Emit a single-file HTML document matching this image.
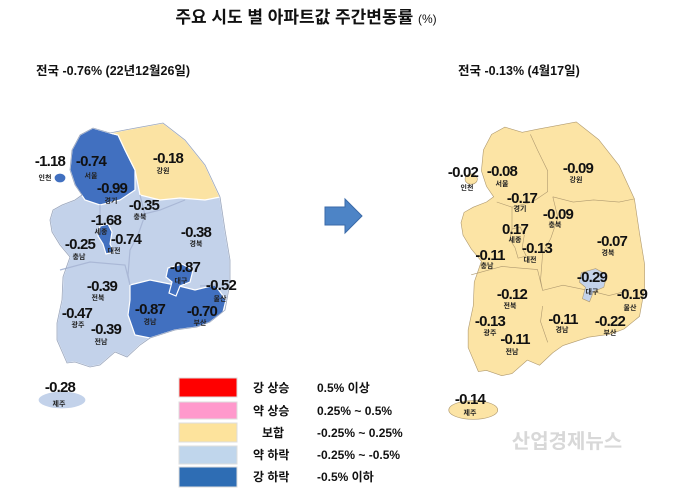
<!DOCTYPE html>
<html><head><meta charset="utf-8"><style>
html,body{margin:0;padding:0;background:#fff;}
svg{display:block;}
text{font-family:"Liberation Sans","Noto Sans CJK KR",sans-serif;}
.n{font-size:15px;font-weight:bold;fill:#111;text-anchor:middle;letter-spacing:-0.8px;}
.s{font-size:7px;font-weight:bold;fill:#222;text-anchor:middle;}
</style></head><body>
<svg width="680" height="499" viewBox="0 0 680 499" xmlns="http://www.w3.org/2000/svg">
<text x="306" y="23" text-anchor="middle" style="font-size:17px;font-weight:bold;fill:#111">주요 시도 별 아파트값 주간변동률 <tspan style="font-size:12px;font-weight:normal">(%)</tspan></text>
<text x="36" y="75" style="font-size:12.5px;font-weight:bold;fill:#111">전국 -0.76% (22년12월26일)</text>
<text x="458" y="75" style="font-size:12.5px;font-weight:bold;fill:#111">전국 -0.13% (4월17일)</text>

<defs>
<path id="outline" d="M80,135 L93,128 L110,133 L125,130 L163,123 L185,140 L205,165 L220,197 L225,230 L230,260 L230,283 L225,310 L210,322 L197,327 L175,330 L150,338 L140,345 L127,357 L115,352 L100,365 L90,367 L75,362 L67,363 L57,340 L57,323 L62,300 L63,277 L70,257 L60,245 L52,232 L50,220 L53,210 L62,205 L75,200 L82,195 L75,185 L70,170 L72,150 Z"/>
<path id="gg" d="M80,135 L93,128 L110,133 L118,135 L125,150 L135,170 L135,190 L120,200 L100,205 L85,200 L75,185 L70,170 L72,150 Z"/>
<path id="gw" d="M110,133 L125,130 L163,123 L185,140 L205,165 L220,197 L205,200 L180,198 L160,200 L140,195 L135,170 L125,150 L118,135 Z"/>
<path id="gn" d="M130,285 L150,280 L175,285 L195,290 L215,285 L226,300 L223,312 L210,322 L197,327 L175,330 L150,338 L135,335 L128,315 L130,300 Z"/>
<path id="dg" d="M168,268 L182,264 L193,270 L190,282 L180,286 L176,296 L169,293 L172,282 L166,277 Z"/>
<path id="sj" d="M100,226 L108,224 L112,232 L110,244 L114,252 L106,254 L103,244 L98,236 Z"/>
<ellipse id="jj" cx="62" cy="400" rx="24" ry="9"/>
<ellipse id="ic" cx="60" cy="178" rx="6" ry="5"/>
</defs>

<!-- Left map -->
<g stroke="#fff" stroke-width="1.2">
<use href="#outline" fill="#c3d2ea"/>
<use href="#gg" fill="#4170c0"/>
<use href="#gw" fill="#fbe3a3"/>
<use href="#gn" fill="#4170c0"/>
<use href="#dg" fill="#4170c0"/>
<use href="#sj" fill="#4170c0"/>
<use href="#jj" fill="#c3d2ea"/>
<use href="#ic" fill="#4170c0"/>
<path d="M140,195 L145,215 L138,235 L130,250 L128,275 L130,285 M60,270 L90,262 L125,265 L130,285 M140,215 L160,210 L185,200 M218,285 L200,286 M100,205 L100,226" fill="none" stroke="#aab8d6"/>
<use href="#outline" fill="none" stroke="#9aa6bd" stroke-width="0.8"/>
</g>
<g>
<text class="n" x="50" y="166">-1.18</text><text class="s" x="45" y="180">인천</text>
<text class="n" x="91" y="166">-0.74</text><text class="s" x="91" y="178">서울</text>
<text class="n" x="112" y="193">-0.99</text><text class="s" x="111" y="203">경기</text>
<text class="n" x="168" y="163">-0.18</text><text class="s" x="163" y="173">강원</text>
<text class="n" x="144" y="210">-0.35</text><text class="s" x="140" y="219">충북</text>
<text class="n" x="106" y="225">-1.68</text><text class="s" x="101" y="234">세종</text>
<text class="n" x="126" y="244">-0.74</text><text class="s" x="114" y="253">대전</text>
<text class="n" x="80" y="249">-0.25</text><text class="s" x="79" y="259">충남</text>
<text class="n" x="196" y="237">-0.38</text><text class="s" x="196" y="246">경북</text>
<text class="n" x="185" y="272">-0.87</text><text class="s" x="181" y="283">대구</text>
<text class="n" x="221" y="290">-0.52</text><text class="s" x="220" y="301">울산</text>
<text class="n" x="102" y="291">-0.39</text><text class="s" x="98" y="300">전북</text>
<text class="n" x="77" y="318">-0.47</text><text class="s" x="78" y="327">광주</text>
<text class="n" x="150" y="314">-0.87</text><text class="s" x="150" y="324">경남</text>
<text class="n" x="202" y="316">-0.70</text><text class="s" x="200" y="325">부산</text>
<text class="n" x="106" y="334">-0.39</text><text class="s" x="101" y="344">전남</text>
<text class="n" x="60" y="392">-0.28</text><text class="s" x="59" y="406">제주</text>
</g>

<!-- Arrow -->
<path d="M325,207 L345,207 L345,199 L362,216 L345,233 L345,225 L325,225 Z" fill="#4d84c6" stroke="#3a6aa8" stroke-width="1"/>

<!-- Right map -->
<g transform="translate(410,-6) scale(1.02,1.04)" stroke="#b09a70" stroke-width="0.6">
<use href="#outline" fill="#fce4a5"/>
<path d="M118,135 L125,150 L135,170 L135,190 L120,200 L100,205 L85,200 M140,195 L160,200 L180,198 L205,200 L220,197 M140,195 L145,215 L138,235 L130,250 L128,275 L130,285 M60,270 L90,262 L125,265 L130,285 L150,280 L175,285 L195,290 L215,285 M130,300 L128,315 L135,335 M100,205 L100,226" fill="none"/>
<use href="#sj" fill="#fce4a5"/>
<use href="#dg" fill="#c3d2ea"/>
<use href="#jj" fill="#fce4a5"/>
<use href="#ic" fill="#fce4a5"/>
</g>
<g>
<text class="n" x="463" y="177">-0.02</text><text class="s" x="467" y="190">인천</text>
<text class="n" x="502" y="176">-0.08</text><text class="s" x="502" y="186">서울</text>
<text class="n" x="522" y="203">-0.17</text><text class="s" x="520" y="211">경기</text>
<text class="n" x="578" y="173">-0.09</text><text class="s" x="576" y="182">강원</text>
<text class="n" x="558" y="219">-0.09</text><text class="s" x="555" y="227">충북</text>
<text class="n" x="515" y="234">0.17</text><text class="s" x="515" y="242">세종</text>
<text class="n" x="537" y="253">-0.13</text><text class="s" x="530" y="262">대전</text>
<text class="n" x="490" y="260">-0.11</text><text class="s" x="487" y="268">충남</text>
<text class="n" x="612" y="246">-0.07</text><text class="s" x="608" y="255">경북</text>
<text class="n" x="592" y="282">-0.29</text><text class="s" x="592" y="294">대구</text>
<text class="n" x="632" y="299">-0.19</text><text class="s" x="630" y="310">울산</text>
<text class="n" x="512" y="299">-0.12</text><text class="s" x="510" y="308">전북</text>
<text class="n" x="490" y="326">-0.13</text><text class="s" x="490" y="335">광주</text>
<text class="n" x="563" y="324">-0.11</text><text class="s" x="562" y="332">경남</text>
<text class="n" x="610" y="326">-0.22</text><text class="s" x="610" y="335">부산</text>
<text class="n" x="515" y="344">-0.11</text><text class="s" x="512" y="354">전남</text>
<text class="n" x="470" y="404">-0.14</text><text class="s" x="470" y="415">제주</text>
</g>

<!-- Legend -->
<g stroke="#ddd" stroke-width="1">
<rect x="179" y="378" width="58" height="19" fill="#ff0000"/>
<rect x="179" y="402" width="58" height="17" fill="#ff99cc"/>
<rect x="179" y="423" width="58" height="19" fill="#fde39c"/>
<rect x="179" y="446" width="58" height="18" fill="#c0d6ec"/>
<rect x="179" y="467" width="58" height="20" fill="#2e6db4"/>
</g>
<g style="font-size:12px;font-weight:bold;fill:#111">
<text x="253" y="392">강 상승</text><text x="317" y="392">0.5% 이상</text>
<text x="253" y="415">약 상승</text><text x="317" y="415">0.25% ~ 0.5%</text>
<text x="262" y="437">보합</text><text x="317" y="437">-0.25% ~ 0.25%</text>
<text x="253" y="459">약 하락</text><text x="317" y="459">-0.25% ~ -0.5%</text>
<text x="253" y="481">강 하락</text><text x="317" y="481">-0.5% 이하</text>
</g>
<text x="567" y="448" text-anchor="middle" style="font-size:20px;font-weight:bold;fill:#d8d8d8">산업경제뉴스</text>
</svg>
</body></html>
